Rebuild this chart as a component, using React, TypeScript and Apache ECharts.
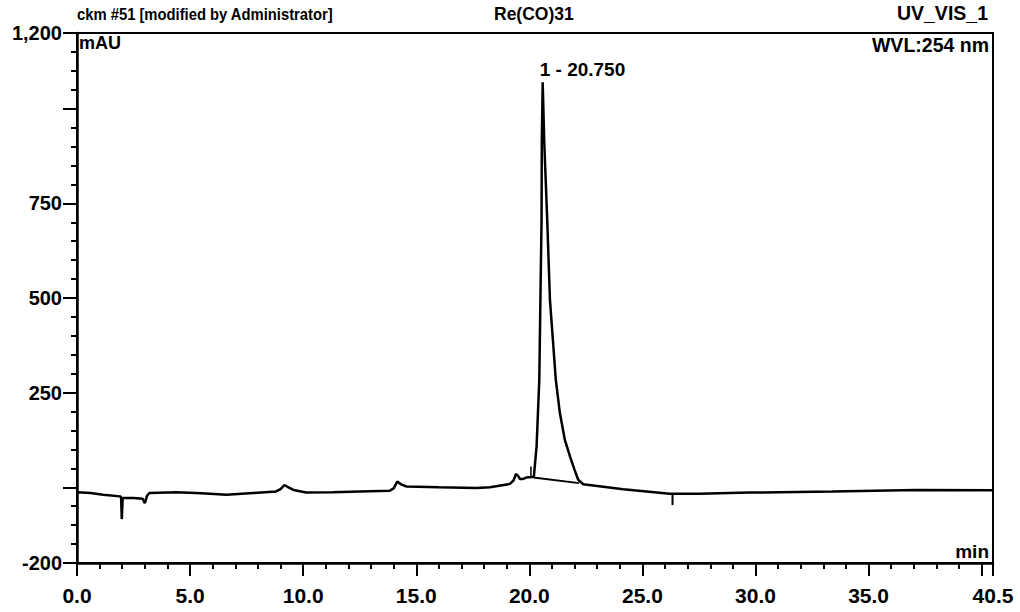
import React, { useEffect, useRef } from "react";
import * as echarts from "echarts";

// Chromatogram signal (retention time in min, absorbance in mAU)
const signalTimes = [
  0, 0.6, 1.16, 1.9, 1.95, 1.98, 2.02, 2.5, 2.9, 3.0, 3.1, 3.2, 4.4, 5.5, 6.6, 7.8,
  8.8, 9.0, 9.17, 9.35, 9.57, 10.13, 11.3, 12.5, 13.83, 14.0, 14.16, 14.35, 14.57,
  16.0, 17.65, 18.26, 19.14, 19.3, 19.41, 19.5, 19.58, 19.73, 19.88, 20.1, 20.2,
  20.32, 20.44, 20.49, 20.54, 20.55, 20.59, 20.66, 20.79, 20.91, 21.17, 21.35,
  21.57, 21.8, 22.0, 22.16, 22.38, 24.15, 26.2, 27.5, 29.75, 33.4, 37.1, 40.5,
];
const signalValues = [
  -13, -15, -20, -24, -26, -84, -28, -28, -30, -42, -22, -15, -13, -16, -20, -15,
  -11, -5, 6, 0, -7, -14, -13, -11, -9, -3, 15, 7, 2,
  0, -2, 0, 9, 18, 35, 30, 22, 22, 26, 27, 28,
  108, 284, 500, 707, 910, 1070, 910, 707, 496, 284, 196,
  125, 81, 46, 20, 8, -5, -17, -17, -14, -11, -7, -8,
];

// Integration baseline under peak 1
const baselineTimes = [20.18, 22.2];
const baselineValues = [26, 11];

// Event markers (vertical ticks)
const markerATimes = [20.07, 20.07];
const markerAValues = [25, 55];
const markerBTimes = [26.33, 26.33];
const markerBValues = [-17, -47];

// Peak annotation
const peakTime = 20.59;
const peakValue = 1070;
const peakLabel = "1 - 20.750";

// Axis ticks and labels
const xMinorTicks = [
  0, 1, 2, 3, 4, 5, 6, 7, 8, 9, 10, 11, 12, 13, 14, 15, 16, 17, 18, 19, 20, 21, 22,
  23, 24, 25, 26, 27, 28, 29, 30, 31, 32, 33, 34, 35, 36, 37, 38, 39, 40, 40.5,
];
const xMajorTicks = [0, 5, 10, 15, 20, 25, 30, 35, 40, 40.5];
const xLabels = [0, 5, 10, 15, 20, 25, 30, 35, 40.5];
const yMinorTicks = [
  -200, -150, -100, -50, 0, 50, 100, 150, 200, 250, 300, 350, 400, 450, 500, 550,
  600, 650, 700, 750, 800, 850, 900, 950, 1000, 1050, 1100, 1150, 1200,
];
const yMajorTicks = [-200, 0, 250, 500, 750, 1000, 1200];
const yLabels = [-200, 250, 500, 750, 1200];

const FONT = "'Liberation Sans', Arial, Helvetica, sans-serif";

const zip = (a: number[], b: number[]) => a.map((t, i) => [t, b[i]]);

export default function App() {
  const ref = useRef<HTMLDivElement>(null);

  useEffect(() => {
    document.body.style.margin = "0";
    const chart = echarts.init(ref.current!, null, { renderer: "svg" });

    const xBase = {
      type: "value",
      min: 0,
      max: 40.5,
      position: "bottom",
      splitLine: { show: false },
    };
    const yBase = {
      type: "value",
      min: -200,
      max: 1200,
      position: "left",
      splitLine: { show: false },
    };
    const textStyle = (size: number) => ({
      fontSize: size,
      fontWeight: "bold",
      fontFamily: FONT,
      fill: "#000",
    });

    chart.setOption({
      animation: false,
      backgroundColor: "#ffffff",
      grid: {
        left: 77,
        top: 33,
        width: 916,
        height: 530,
        show: true,
        borderColor: "#000",
        borderWidth: 2,
        backgroundColor: "transparent",
      },
      xAxis: [
        {
          ...xBase,
          axisLine: { show: true, onZero: false, lineStyle: { color: "#000", width: 2.5 } },
          axisTick: {
            show: true,
            customValues: xMinorTicks,
            length: 6,
            lineStyle: { color: "#000", width: 2 },
          },
          axisLabel: { show: false },
        },
        {
          ...xBase,
          axisLine: { show: false, onZero: false },
          axisTick: {
            show: true,
            customValues: xMajorTicks,
            length: 13,
            lineStyle: { color: "#000", width: 2 },
          },
          axisLabel: {
            show: true,
            customValues: xLabels,
            formatter: (v: number) => v.toFixed(1),
            fontSize: 21,
            fontWeight: "bold",
            fontFamily: FONT,
            color: "#000",
            margin: 22,
          },
        },
      ],
      yAxis: [
        {
          ...yBase,
          axisLine: { show: true, onZero: false, lineStyle: { color: "#000", width: 2.5 } },
          axisTick: {
            show: true,
            customValues: yMinorTicks,
            length: 6,
            lineStyle: { color: "#000", width: 2 },
          },
          axisLabel: { show: false },
        },
        {
          ...yBase,
          axisLine: { show: false, onZero: false },
          axisTick: {
            show: true,
            customValues: yMajorTicks,
            length: 14,
            lineStyle: { color: "#000", width: 2 },
          },
          axisLabel: {
            show: true,
            customValues: yLabels,
            formatter: (v: number) => (v === 1200 ? "1,200" : String(v)),
            fontSize: 20,
            fontWeight: "bold",
            fontFamily: FONT,
            color: "#000",
            margin: 15,
          },
        },
      ],
      series: [
        {
          type: "line",
          data: zip(signalTimes, signalValues),
          symbol: "none",
          lineStyle: { color: "#000", width: 2.5 },
          z: 3,
        },
        {
          type: "line",
          data: zip(baselineTimes, baselineValues),
          symbol: "none",
          lineStyle: { color: "#000", width: 2 },
        },
        {
          type: "line",
          data: zip(markerATimes, markerAValues),
          symbol: "none",
          lineStyle: { color: "#000", width: 1.5 },
        },
        {
          type: "line",
          data: zip(markerBTimes, markerBValues),
          symbol: "none",
          lineStyle: { color: "#000", width: 2 },
        },
        {
          type: "scatter",
          data: [[peakTime, peakValue]],
          symbolSize: 0,
          silent: true,
          itemStyle: { opacity: 1, color: "#000" },
          label: {
            show: true,
            formatter: peakLabel,
            position: "top",
            align: "left",
            offset: [-3, 2],
            fontSize: 19,
            fontWeight: "bold",
            fontFamily: FONT,
            color: "#000",
          },
        },
      ],
      graphic: [
        {
          type: "text",
          x: 77,
          y: 23,
          scaleX: 0.87,
          style: {
            text: "ckm #51 [modified by Administrator]",
            ...textStyle(17),
            textAlign: "left",
            textVerticalAlign: "bottom",
          },
        },
        {
          type: "text",
          x: 494,
          y: 23,
          style: {
            text: "Re(CO)31",
            ...textStyle(17.5),
            textAlign: "left",
            textVerticalAlign: "bottom",
          },
        },
        {
          type: "text",
          x: 988,
          y: 23,
          style: {
            text: "UV_VIS_1",
            ...textStyle(19.5),
            textAlign: "right",
            textVerticalAlign: "bottom",
          },
        },
        {
          type: "text",
          x: 989,
          y: 45,
          style: {
            text: "WVL:254 nm",
            ...textStyle(19.5),
            textAlign: "right",
            textVerticalAlign: "middle",
          },
        },
        {
          type: "text",
          x: 79,
          y: 43,
          style: {
            text: "mAU",
            ...textStyle(18),
            textAlign: "left",
            textVerticalAlign: "middle",
          },
        },
        {
          type: "text",
          x: 989,
          y: 551,
          style: {
            text: "min",
            ...textStyle(19),
            textAlign: "right",
            textVerticalAlign: "middle",
          },
        },
      ],
    });

    return () => chart.dispose();
  }, []);

  return (
    <div
      ref={ref}
      style={{ position: "absolute", left: 0, top: 0, width: 1020, height: 612, background: "#fff" }}
    />
  );
}
